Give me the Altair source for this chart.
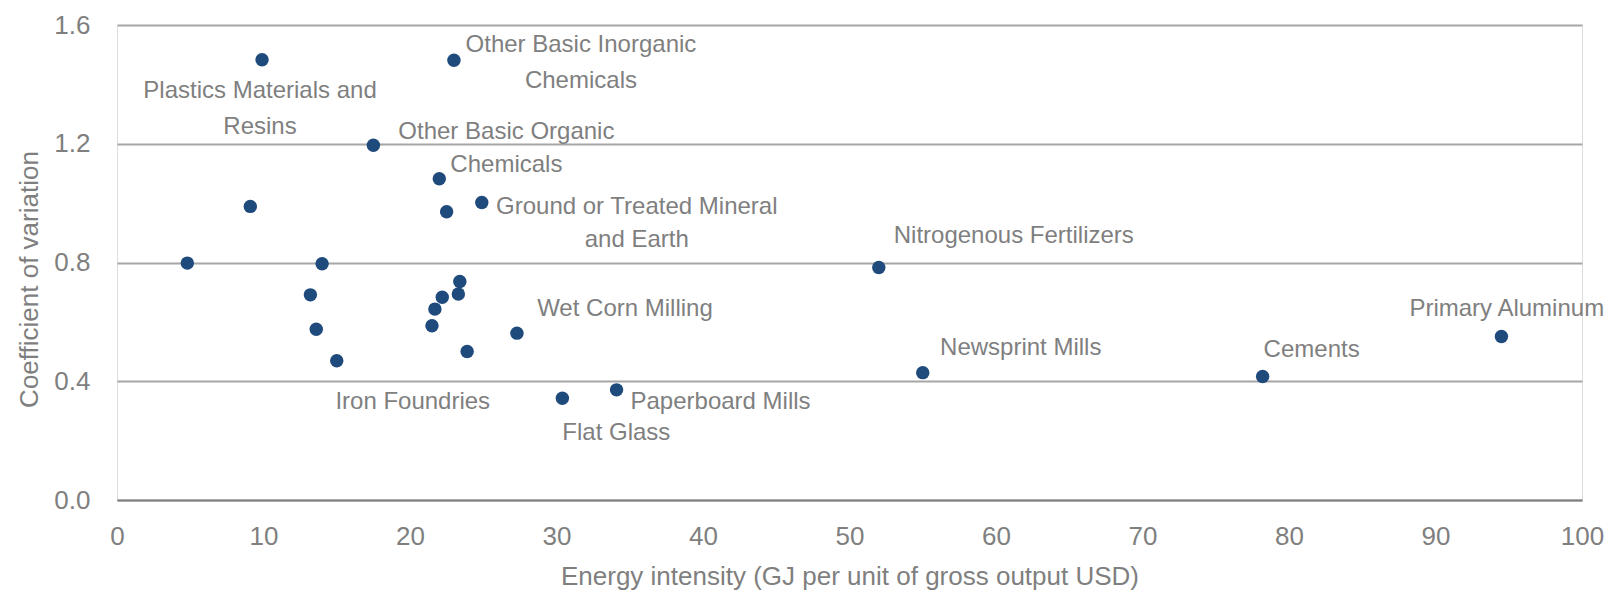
import altair as alt
import pandas as pd

# Energy intensity (GJ per unit of gross output USD)
energy_intensity = [9.9, 23.0, 17.5, 22.0, 9.1, 22.5, 24.9, 4.8, 14.0, 13.2,
                    13.6, 15.0, 23.4, 23.3, 22.2, 21.7, 21.5, 23.9, 27.3, 30.4,
                    34.1, 52.0, 55.0, 78.2, 94.5]
# Coefficient of variation
coef_variation = [1.483, 1.481, 1.195, 1.082, 0.989, 0.971, 1.002, 0.798, 0.796, 0.691,
                  0.575, 0.469, 0.736, 0.694, 0.683, 0.643, 0.587, 0.500, 0.562, 0.343,
                  0.371, 0.783, 0.429, 0.416, 0.551]
# Industry labels ("" = unlabelled point)
industry = ["Plastics Materials and\nResins", "Other Basic Inorganic\nChemicals",
            "Other Basic Organic\nChemicals", "", "", "",
            "Ground or Treated Mineral\nand Earth", "", "", "",
            "", "Iron Foundries", "", "", "", "", "", "", "Wet Corn Milling", "Flat Glass",
            "Paperboard Mills", "Nitrogenous Fertilizers", "Newsprint Mills", "Cements",
            "Primary Aluminum"]

x_ticks = [0, 10, 20, 30, 40, 50, 60, 70, 80, 90, 100]
y_ticks = [0.0, 0.4, 0.8, 1.2, 1.6]

df = pd.DataFrame({
    "idx": list(range(len(energy_intensity))),
    "energy": energy_intensity,
    "cv": coef_variation,
    "industry": industry,
})

# label placement styles: align, dx, dy, line height
label_style = {
    0: ("center", -2, 38, 36),
    1: ("center", 127, -8, 36),
    2: ("center", 133, -6, 33),
    6: ("center", 155, 11, 33),
    11: ("center", 76, 48, 34),
    18: ("center", 108, -17, 34),
    19: ("center", 54, 42, 34),
    20: ("center", 104, 19, 34),
    21: ("center", 135, -25, 34),
    22: ("center", 98, -18, 34),
    23: ("center", 49, -20, 34),
    24: ("left", -92, -20, 34),
}

FONT = "Liberation Sans"
GRAY = "#7f7f7f"

xscale = alt.Scale(domain=[0, 100], nice=False, zero=True)
yscale = alt.Scale(domain=[0, 1.6], nice=False, zero=True)

base = alt.Chart(df)

points = base.mark_circle(size=180, opacity=1, color="#1F4A7C").encode(
    x=alt.X("energy:Q", scale=xscale,
            title="Energy intensity (GJ per unit of gross output USD)",
            axis=alt.Axis(values=x_ticks, grid=False, ticks=False, domain=True,
                          domainColor="#808080", domainWidth=2,
                          labelFont=FONT, labelFontSize=26, labelColor=GRAY,
                          labelPadding=23, labelFlush=False,
                          titleFont=FONT, titleFontSize=26, titleColor=GRAY,
                          titleFontWeight="normal", titleY=84,
                          titleBaseline="alphabetic")),
    y=alt.Y("cv:Q", scale=yscale, title="Coefficient of variation",
            axis=alt.Axis(values=y_ticks, format=".1f", grid=True,
                          gridColor="#a6a6a6", gridWidth=2, domain=False, ticks=False,
                          labelFont=FONT, labelFontSize=26, labelColor=GRAY,
                          labelPadding=27,
                          titleFont=FONT, titleFontSize=26, titleColor=GRAY,
                          titleFontWeight="normal", titleX=-80, titleY=254,
                          titleBaseline="alphabetic")),
)

layers = [points]
for i, (align, dx, dy, lh) in label_style.items():
    layers.append(
        base.transform_filter(alt.datum.idx == i).mark_text(
            align=align, baseline="alphabetic", dx=dx, dy=dy, lineBreak="\n",
            lineHeight=lh, font=FONT, fontSize=24, color=GRAY,
        ).encode(x=alt.X("energy:Q", scale=xscale), y=alt.Y("cv:Q", scale=yscale),
                 text="industry:N")
    )

chart = alt.layer(*layers).properties(
    width=1465, height=475,
    autosize=alt.AutoSizeParams(type="none"),
    padding={"left": 109, "top": 17, "right": 27, "bottom": 90},
).configure_view(stroke=None).configure(background="white")

chart.save("out.html", embed_options={"renderer": "svg", "actions": False})
